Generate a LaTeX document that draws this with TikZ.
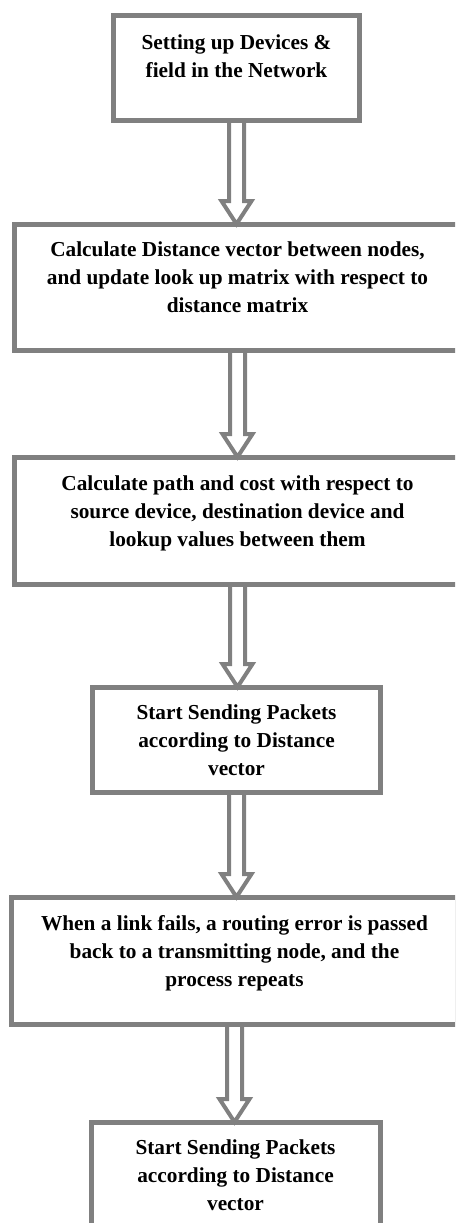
\documentclass[tikz,border=0pt]{standalone}
\usepackage{fontspec}
\setmainfont{Liberation Serif}
\usetikzlibrary{calc}
\definecolor{boxgray}{RGB}{128,128,128}
\newcommand{\blockarrow}[2]{%
\draw[arrowline] let \p1=(#1.south), \p2=(#2.north) in (\x1-7.5pt,\y1+3pt) -- (\x1-7.5pt,\y2+21pt) -- (\x1-15pt,\y2+21pt) -- (\x1,\y2-2pt) -- (\x1+15pt,\y2+21pt) -- (\x1+7.5pt,\y2+21pt) -- (\x1+7.5pt,\y1+3pt);}

\begin{document}
\begin{tikzpicture}[x=1pt,y=-1pt,
  box/.style={draw=boxgray,line width=5pt,inner sep=0pt,align=center,font=\fontsize{21.3}{28}\selectfont\bfseries},
  arrowline/.style={draw=boxgray,line width=4pt}]
\path[use as bounding box] (0,0) rectangle (455,1223);
\clip (0,0) rectangle (455,1223);
\node[box,minimum width=246,minimum height=105] (setup) at (236.5,68) {Setting up Devices \&\\field in the Network\\[-4pt]~};
\node[box,minimum width=446,minimum height=126] (distvec) at (237.5,287.5) {Calculate Distance vector between nodes,\\and update look up matrix with respect to\\distance matrix\\[-8pt]~};
\node[box,minimum width=446,minimum height=127] (pathcost) at (237.5,521) {Calculate path and cost with respect to\\source device, destination device and\\lookup values between them\\[-8pt]~};
\node[box,minimum width=288,minimum height=105] (sending) at (236.5,740) {Start Sending Packets\\according to Distance\\vector};
\node[box,minimum width=446,minimum height=127] (linkfail) at (234.5,961) {When a link fails, a routing error is passed\\back to a transmitting node, and the\\process repeats\\[-8pt]~};
\node[box,minimum width=289,minimum height=105] (resend) at (235.5,1175) {Start Sending Packets\\according to Distance\\vector};
\blockarrow{setup}{distvec}
\blockarrow{distvec}{pathcost}
\blockarrow{pathcost}{sending}
\blockarrow{sending}{linkfail}
\blockarrow{linkfail}{resend}
\end{tikzpicture}
\end{document}
